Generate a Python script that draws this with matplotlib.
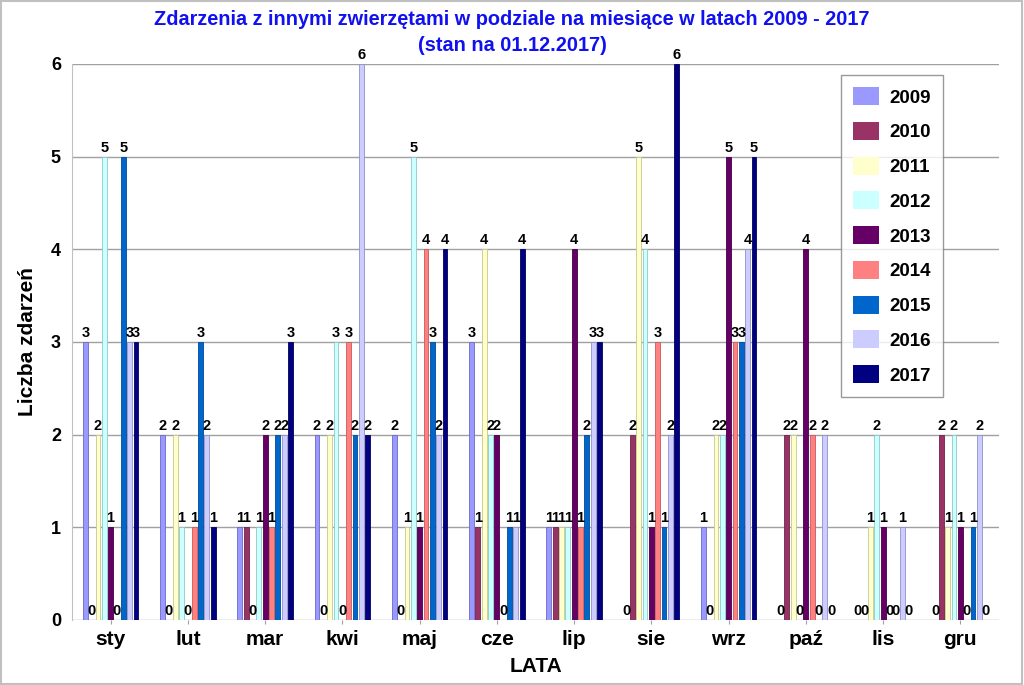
import numpy as np
import matplotlib
matplotlib.use("Agg")
import matplotlib.pyplot as plt
from matplotlib.patches import Rectangle

# Data: events per month, one list per year
months = ["sty", "lut", "mar", "kwi", "maj", "cze", "lip", "sie", "wrz", "paź", "lis", "gru"]
years = ["2009", "2010", "2011", "2012", "2013", "2014", "2015", "2016", "2017"]

y2009 = [3, 2, 1, 2, 2, 3, 1, 0, 1, 0, 0, 0]
y2010 = [0, 0, 1, 0, 0, 1, 1, 2, 0, 2, 0, 2]
y2011 = [2, 2, 0, 2, 1, 4, 1, 5, 2, 2, 1, 1]
y2012 = [5, 1, 1, 3, 5, 2, 1, 4, 2, 0, 2, 2]
y2013 = [1, 0, 2, 0, 1, 2, 4, 1, 5, 4, 1, 1]
y2014 = [0, 1, 1, 3, 4, 0, 1, 3, 3, 2, 0, 0]
y2015 = [5, 3, 2, 2, 3, 1, 2, 1, 3, 0, 0, 1]
y2016 = [3, 2, 2, 6, 2, 1, 3, 2, 4, 2, 1, 2]
y2017 = [3, 1, 3, 2, 4, 4, 3, 6, 5, 0, 0, 0]
series = [y2009, y2010, y2011, y2012, y2013, y2014, y2015, y2016, y2017]

colors = ["#9999FF", "#993366", "#FFFFCC", "#CCFFFF", "#660066",
          "#FF8080", "#0066CC", "#CCCCFF", "#000080"]
edges = ["#6A6AC8", "#6E2449", "#C8C890", "#8FC8C8", "#440044",
         "#C85A5A", "#004A96", "#9090C8", "#00005A"]

fig = plt.figure(figsize=(10.24, 6.85), dpi=100)
fig.patches.append(Rectangle((0.001, 0.001), 0.997, 0.997, transform=fig.transFigure,
                             fill=False, edgecolor="#C0C0C0", linewidth=1.5))
ax = fig.add_axes([0.0703, 0.0949, 0.9053, 0.8117])

x = np.arange(len(months))
slot = 0.082
width = 0.062
bold = dict(fontweight="bold", family=["Liberation Sans", "DejaVu Sans"])

for i, (vals, year) in enumerate(zip(series, years)):
    pos = x + (i - 4) * slot
    ax.bar(pos, vals, width=width, color=colors[i], edgecolor=edges[i],
           linewidth=0.6, label=year, zorder=3)
    # value labels sit on top of each bar, zeros too (as in the source chart)
    for px, v in zip(pos, vals):
        ax.text(px, v + 0.02, str(v), ha="center", va="bottom", fontsize=10.5,
                color="black", zorder=4, **bold)

ax.set_xlim(-0.5, len(months) - 0.5)
ax.set_ylim(0, 6)
ax.set_yticks(range(7))
ax.yaxis.grid(True, color="#A0A0A0", linewidth=1)
ax.set_axisbelow(True)
ax.set_xticks(x)
ax.set_xticklabels(months, fontsize=15, **bold)
for lbl in ax.get_yticklabels():
    lbl.set_fontsize(13)
    lbl.set_fontweight("bold")
    lbl.set_family(["Liberation Sans", "DejaVu Sans"])
ax.tick_params(axis="y", length=0, pad=8)
ax.tick_params(axis="x", length=3, color="#A0A0A0", pad=4)

for side in ["top", "right", "bottom"]:
    ax.spines[side].set_visible(False)
ax.spines["left"].set_color("#C0C0C0")

ax.set_ylabel("Liczba zdarzeń", fontsize=15, labelpad=10, **bold)
ax.set_xlabel("LATA", fontsize=15, labelpad=6, **bold)

title_font = ["Liberation Sans Narrow", "Liberation Sans", "DejaVu Sans"]
fig.text(0.5, 0.972, "Zdarzenia z innymi zwierzętami w podziale na miesiące w latach 2009 - 2017",
         ha="center", va="center", fontsize=14.3, color="#1010F0", fontweight="bold",
         family=title_font)
fig.text(0.5, 0.933, "(stan na 01.12.2017)",
         ha="center", va="center", fontsize=14.3, color="#1010F0", fontweight="bold",
         family=title_font)

leg = ax.legend(loc="upper left", bbox_to_anchor=(841 / 1024, 1 - 75 / 685),
                bbox_transform=fig.transFigure, frameon=True, fancybox=False,
                prop=dict(weight="bold", size=13.5, family="Liberation Sans"),
                handlelength=1.4, handleheight=1.1, handletextpad=0.55,
                labelspacing=0.82, borderpad=0.65, borderaxespad=0)
leg.get_frame().set_edgecolor("#808080")
leg.get_frame().set_linewidth(1)
for h in leg.legend_handles:
    h.set_edgecolor("none")

fig.savefig("out.png", dpi=100)
